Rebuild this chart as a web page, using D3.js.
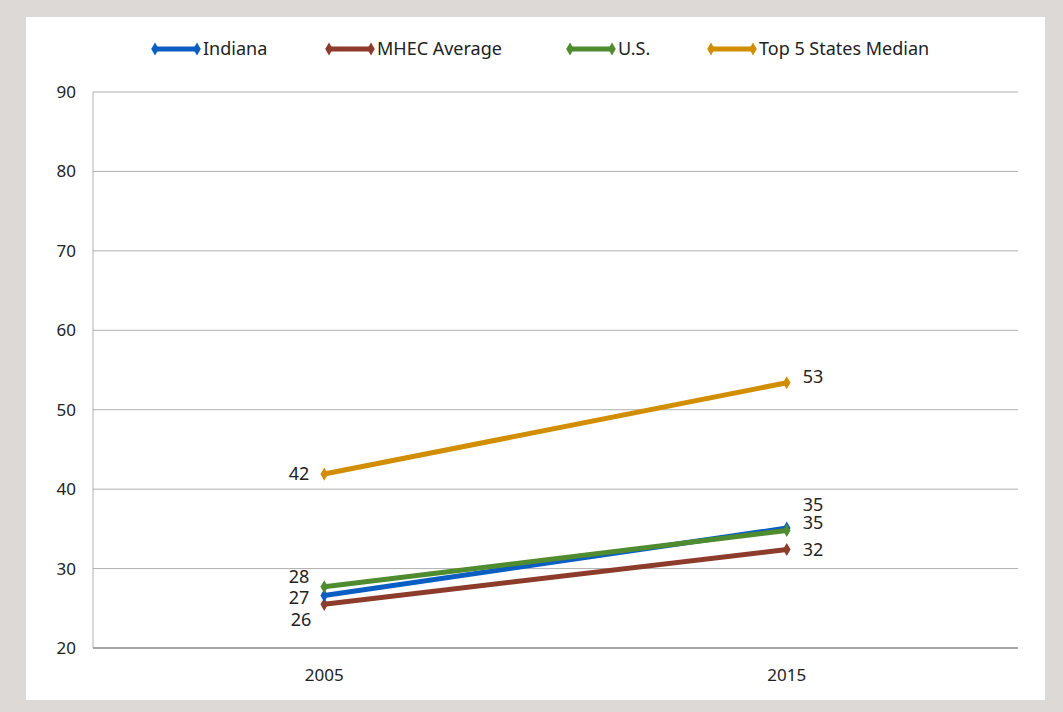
<!DOCTYPE html>
<html lang="en">
<head>
	<meta charset="UTF-8">
	<title>Chart</title>
	<style>
		body { margin: 0; background: #dcd9d6; }
		svg { display: block; font-family: "Noto Sans", "Open Sans", sans-serif; }
	</style>
</head>
<body>
	<script src="https://cdn.jsdelivr.net/npm/d3@7/dist/d3.min.js"></script>
	<script type="text/javascript">

		// data
		var years = ["2005", "2015"];
		var seriesNames = ["Indiana", "MHEC Average", "U.S.", "Top 5 States Median"];
		var indiana = [26.6, 35.1];
		var mhec = [25.5, 32.4];
		var us = [27.7, 34.8];
		var top5 = [41.9, 53.4];
		var yTicks = [20, 30, 40, 50, 60, 70, 80, 90];

		var colors = ["#0a5ec2", "#8d3b2a", "#4f8b2f", "#d18e00"];
		var allValues = [indiana, mhec, us, top5];

		var width = 1063, height = 712;
		var margin = { top: 92, right: 45, bottom: 64, left: 93 };

		var svg = d3.select("body").append("svg")
			.attr("width", width)
			.attr("height", height);

		// white panel
		svg.append("rect")
			.attr("x", 26).attr("y", 17)
			.attr("width", 1019).attr("height", 683)
			.attr("fill", "#fff");

		var x = d3.scalePoint()
			.domain(years)
			.range([margin.left, width - margin.right])
			.padding(0.5);

		var y = d3.scaleLinear()
			.domain([20, 90])
			.range([height - margin.bottom, margin.top]);

		// gridlines
		svg.append("g")
			.selectAll("line")
			.data(yTicks)
			.enter().append("line")
			.attr("x1", margin.left)
			.attr("x2", width - margin.right)
			.attr("y1", function(d) { return y(d); })
			.attr("y2", function(d) { return y(d); })
			.attr("stroke", function(d) { return d === 20 ? "#a6a6a6" : "#b0b0b0"; })
			.attr("stroke-width", function(d) { return d === 20 ? 2 : 1; });

		// left axis line
		svg.append("line")
			.attr("x1", margin.left).attr("x2", margin.left)
			.attr("y1", y(90)).attr("y2", y(20))
			.attr("stroke", "#b0b0b0");

		// y tick labels
		svg.append("g")
			.selectAll("text")
			.data(yTicks)
			.enter().append("text")
			.attr("x", 76)
			.attr("y", function(d) { return y(d); })
			.attr("dy", "0.35em")
			.attr("text-anchor", "end")
			.attr("font-size", "17px")
			.attr("fill", "#222")
			.text(function(d) { return d; });

		// x tick labels
		svg.append("g")
			.selectAll("text")
			.data(years)
			.enter().append("text")
			.attr("x", function(d) { return x(d); })
			.attr("y", y(20) + 33)
			.attr("text-anchor", "middle")
			.attr("font-size", "17px")
			.attr("fill", "#222")
			.text(function(d) { return d; });

		var line = d3.line()
			.x(function(d, i) { return x(years[i]); })
			.y(function(d) { return y(d); });

		function diamond(g, cx, cy, color) {
			g.append("path")
				.attr("d", d3.symbol().type(d3.symbolDiamond).size(50)())
				.attr("transform", "translate(" + cx + "," + cy + ")")
				.attr("fill", color);
		}

		// lines, drawn in order so US sits on Indiana
		var drawOrder = [1, 0, 2, 3];
		drawOrder.forEach(function(s) {
			var vals = allValues[s];
			var g = svg.append("g");
			g.append("path")
				.datum(vals)
				.attr("d", line)
				.attr("fill", "none")
				.attr("stroke", colors[s])
				.attr("stroke-width", 5);
			vals.forEach(function(v, i) {
				diamond(g, x(years[i]), y(v), colors[s]);
			});
		});

		// data labels: [series, index, dx, dy, anchor]
		var labels = [
			[3, 0, -15, 0, "end"],
			[3, 1, 16, -6, "start"],
			[0, 0, -15, 2, "end"],
			[2, 0, -15, -10, "end"],
			[1, 0, -13, 15, "end"],
			[0, 1, 16, -23, "start"],
			[2, 1, 16, -8, "start"],
			[1, 1, 16, 0, "start"]
		];
		svg.append("g")
			.selectAll("text")
			.data(labels)
			.enter().append("text")
			.attr("x", function(d) { return x(years[d[1]]) + d[2]; })
			.attr("y", function(d) { return y(allValues[d[0]][d[1]]) + d[3]; })
			.attr("dy", "0.35em")
			.attr("text-anchor", function(d) { return d[4]; })
			.attr("font-size", "18px")
			.attr("fill", "#222")
			.text(function(d) { return Math.round(allValues[d[0]][d[1]]); });

		// legend
		var legendX = [152, 326, 567, 708];
		var legend = svg.append("g")
			.selectAll("g")
			.data(seriesNames)
			.enter().append("g")
			.attr("transform", function(d, i) { return "translate(" + legendX[i] + ",49)"; });

		legend.append("line")
			.attr("x1", 2).attr("x2", 46)
			.attr("stroke", function(d, i) { return colors[i]; })
			.attr("stroke-width", 5);
		legend.each(function(d, i) {
			var g = d3.select(this);
			diamond(g, 3, 0, colors[i]);
			diamond(g, 45, 0, colors[i]);
		});
		legend.append("text")
			.attr("x", 51)
			.attr("dy", "0.35em")
			.attr("font-size", "18px")
			.attr("fill", "#222")
			.text(function(d) { return d; });

	</script>
</body>
</html>
